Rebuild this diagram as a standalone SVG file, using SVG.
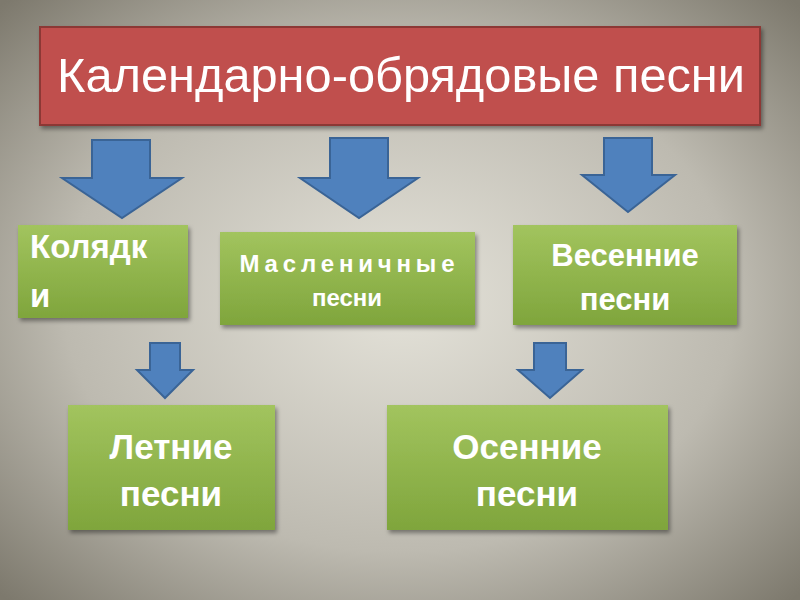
<svg xmlns="http://www.w3.org/2000/svg" width="800" height="600" viewBox="0 0 800 600">
<defs>
<radialGradient id="bg" cx="50%" cy="50%" r="70%">
<stop offset="0" stop-color="#e4e2d9"/><stop offset="0.6" stop-color="#bdbab0"/><stop offset="1" stop-color="#7d796d"/>
</radialGradient>
<linearGradient id="gr" x1="0" y1="0" x2="0" y2="1">
<stop offset="0" stop-color="#a2c45e"/><stop offset="1" stop-color="#7fa53c"/>
</linearGradient>
<filter id="sh" x="-10%" y="-10%" width="130%" height="130%"><feDropShadow dx="2" dy="3" stdDeviation="2" flood-opacity="0.4"/></filter>
</defs>
<style>
.box{fill:url(#gr);filter:url(#sh)}
.arr{fill:#4f81bd;stroke:#3a6496;stroke-width:2}
.t{font-family:"Liberation Sans",Arial,sans-serif;font-weight:bold;fill:#fff;text-anchor:middle}
</style>
<rect width="800" height="600" fill="url(#bg)"/>
<g id="title"><rect x="40" y="27" width="720" height="98" fill="#c0504d" stroke="#8c3836" stroke-width="2" filter="url(#sh)"/>
<text x="401" y="92" font-family="Liberation Sans,Arial,sans-serif" font-size="48" fill="#fff" text-anchor="middle" textLength="688" lengthAdjust="spacingAndGlyphs">Календарно-обрядовые песни</text></g>
<g id="connectors">
<polygon class="arr" points="92,140 150,140 150,178 182,178 122,218 62,178 92,178"/>
<polygon class="arr" points="330,138 388,138 388,178 418,178 359,218 300,178 330,178"/>
<polygon class="arr" points="604,138 652,138 652,175 675,175 628,212 582,175 604,175"/>
<polygon class="arr" points="150,343 180,343 180,370 193,370 165,398 137,370 150,370"/>
<polygon class="arr" points="534,343 566,343 566,370 582,370 550,398 518,370 534,370"/>
</g>
<g id="koliadki"><rect class="box" x="18" y="225" width="170" height="93"/>
<text class="t" x="30" y="258" font-size="33" style="text-anchor:start">Колядк</text><text class="t" x="30" y="307" font-size="33" style="text-anchor:start">и</text></g>
<g id="maslenitsa"><rect class="box" x="220" y="232" width="255" height="93"/>
<text class="t" x="347" y="272" font-size="24" textLength="215">Масленичные</text><text class="t" x="347" y="306" font-size="24">песни</text></g>
<g id="vesennie"><rect class="box" x="513" y="225" width="224" height="100"/>
<text class="t" x="625" y="266" font-size="31">Весенние</text><text class="t" x="625" y="310" font-size="31">песни</text></g>
<g id="letnie"><rect class="box" x="68" y="405" width="207" height="125"/>
<text class="t" x="171" y="459" font-size="35">Летние</text><text class="t" x="171" y="506" font-size="35">песни</text></g>
<g id="osennie"><rect class="box" x="387" y="405" width="281" height="125"/>
<text class="t" x="527" y="459" font-size="35">Осенние</text><text class="t" x="527" y="506" font-size="35">песни</text></g>
</svg>
